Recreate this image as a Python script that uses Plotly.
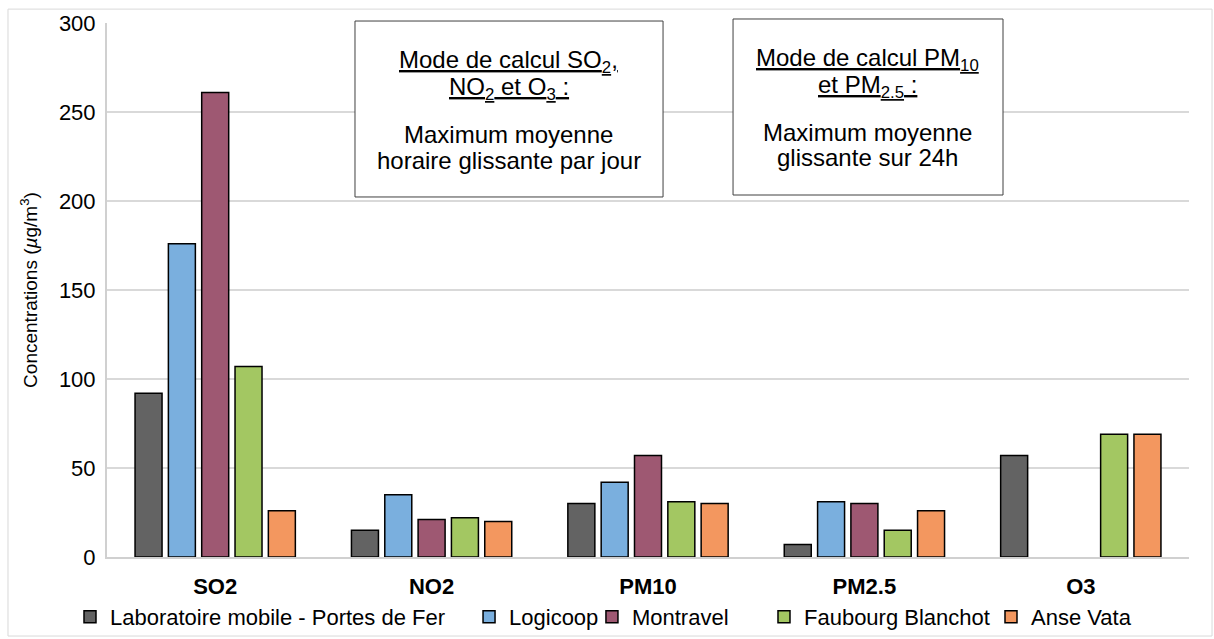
import plotly.graph_objects as go

categories = ['SO2', 'NO2', 'PM10', 'PM2.5', 'O3']

series_names = ['Laboratoire mobile - Portes de Fer', 'Logicoop', 'Montravel',
                'Faubourg Blanchot', 'Anse Vata']
labo = [92, 15, 30, 7, 57]
logicoop = [176, 35, 42, 31, None]
montravel = [261, 21, 57, 30, None]
faubourg = [107, 22, 31, 15, 69]
anse_vata = [26, 20, 30, 26, 69]

y_ticks = [0, 50, 100, 150, 200, 250, 300]

colors = ['#636363', '#7aafde', '#9e5872', '#a3c762', '#f3975f']
FONT = 'Arial, Liberation Sans, sans-serif'

# une légende par série, pour reproduire l'espacement d'Excel
legend_x = [-0.0342, 0.3346, 0.4482, 0.6072, 0.8170]
legend_ids = ['legend', 'legend2', 'legend3', 'legend4', 'legend5']

fig = go.Figure()
all_vals = [labo, logicoop, montravel, faubourg, anse_vata]
for name, vals, col, lid in zip(series_names, all_vals, colors, legend_ids):
    fig.add_trace(go.Bar(
        x=categories, y=vals, name=name, legend=lid,
        marker=dict(color=col, line=dict(color='#000000', width=1.5)),
    ))

# encadrés explicatifs (une annotation par ligne pour garder l'interligne)
boxes = [
    dict(x0=0.2292, x1=0.5139, y0=0.6742, y1=1.0037, xc=0.3715,
         lines=['<u>Mode de calcul SO<sub>2</sub>,</u>',
                '<u>NO<sub>2</sub> et O<sub>3</sub> :</u>',
                'Maximum moyenne', 'horaire glissante par jour'],
         ys=[62, 89, 135, 161]),
    dict(x0=0.5786, x1=0.8281, y0=0.6779, y1=1.0075, xc=0.7033,
         lines=['<u>Mode de calcul PM<sub>10</sub></u>',
                '<u>et PM<sub>2.5</sub> :</u>',
                'Maximum moyenne', 'glissante sur 24h'],
         ys=[60, 87, 132, 158]),
]
for b in boxes:
    fig.add_shape(type='rect', xref='paper', yref='paper', x0=b['x0'], x1=b['x1'],
                  y0=b['y0'], y1=b['y1'], line=dict(color='#404040', width=1),
                  fillcolor='white', layer='above')
    for txt, ypx in zip(b['lines'], b['ys']):
        fig.add_annotation(xref='paper', yref='paper', x=b['xc'], y=(557 - ypx) / 534,
                           text=txt, showarrow=False, xanchor='center', yanchor='middle',
                           font=dict(size=24, color='#000000'))

# cadre extérieur du graphique
fig.add_shape(type='rect', xref='paper', yref='paper', x0=-0.0915, x1=1.0213,
              y0=-0.148, y1=1.026, line=dict(color='#d9d9d9', width=1))

layout_legends = {}
for lid, lx in zip(legend_ids, legend_x):
    layout_legends[lid] = dict(orientation='h', x=lx, xanchor='left', y=-0.1124,
                               yanchor='middle', font=dict(size=22),
                               bgcolor='rgba(0,0,0,0)')

fig.update_layout(
    width=1214, height=639,
    margin=dict(l=107, r=25, t=23, b=82, autoexpand=False),
    paper_bgcolor='white', plot_bgcolor='white',
    font=dict(family=FONT, size=20, color='#000000'),
    barmode='group', bargap=0.23, bargroupgap=0.19,
    showlegend=True,
    xaxis=dict(showline=True, linecolor='#d0d0d0', linewidth=2, ticks='',
               tickfont=dict(size=22, family=FONT, weight='bold'),
               ticklabelstandoff=9),
    yaxis=dict(range=[0, 300], tickvals=y_ticks, showgrid=True, gridcolor='#d9d9d9',
               gridwidth=2, showline=True, linecolor='#d0d0d0', linewidth=2,
               zeroline=False, ticks='', ticklabelstandoff=5,
               tickfont=dict(size=22),
               title=dict(text='Concentrations (<i>µ</i>g/m<sup>3</sup>)',
                          font=dict(size=19), standoff=16)),
    **layout_legends,
)

fig.write_html('out.html', config={'displayModeBar': False},
               post_script="document.body.style.margin='0';")
